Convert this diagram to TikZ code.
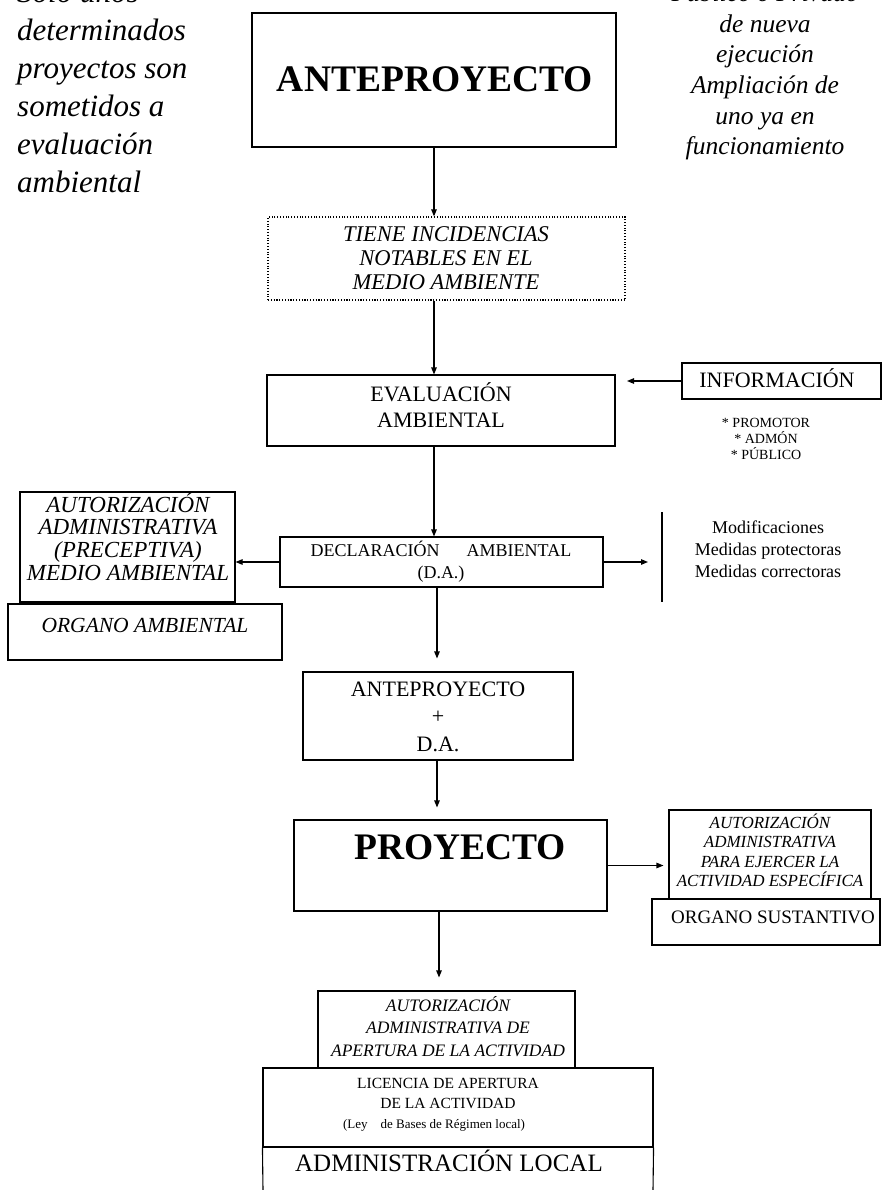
\documentclass[tikz,border=0pt]{standalone}
\usepackage{fontspec}
\setmainfont{Liberation Serif}
\usetikzlibrary{arrows.meta,fit}

% font size helper
\newcommand\fsz[1]{\fontsize{#1}{#1}\selectfont}
% a stack of centred text lines: name, x, first baseline, leading, node options, lines
\newcommand\txtlines[6]{%
  \foreach \l [count=\i from 0] in {#6}{%
    \node[anchor=base, inner sep=0pt, #5] (#1-\i) at (#2,#3+\i*#4) {\l};}}

\begin{document}
\begin{tikzpicture}[x=1pt,y=-1pt,
  box/.style={draw, line width=1.1pt, inner sep=0pt, fit={#1}},
  heavybox/.style={draw, line width=2.8pt, inner sep=0pt, fit={#1}},
  dotbox/.style={draw, line width=1.2pt, dash pattern=on 1.1pt off 1.7pt, inner sep=0pt, fit={#1}},
  arr/.style={-{Triangle[length=7pt,width=5.5pt]}, line width=1.1pt},
  ln/.style={line width=1.1pt},
  lbl/.style={inner sep=0pt}]

\useasboundingbox (0,0) rectangle (883,1190);

% side notes
\txtlines{tl}{17}{3}{38}{anchor=base west, font=\fsz{31}\itshape}{Sólo unos,determinados,proyectos son,sometidos a,evaluación,ambiental}
\txtlines{tr}{765}{1.5}{30.7}{font=\fsz{25.5}\itshape}{Público o Privado,de nueva,ejecución,Ampliación de,uno ya en,funcionamiento}

% boxes
\node[heavybox={(252,13) (616,147)}] (ante) {};
\node[dotbox={(268,217) (625,300)}] (tiene) {};
\node[box={(267,375) (615,446)}] (eval) {};
\node[box={(682,363) (881,399)}] (info) {};
\node[box={(280,537) (603,587)}] (decl) {};
\node[box={(20,492) (235,602)}] (aut1) {};
\node[box={(8,604) (282,660)}] (org1) {};
\node[box={(303,672) (573,760)}] (anda) {};
\node[box={(294,820) (607,911)}] (proy) {};
\node[box={(669,810) (871,899)}] (aut2) {};
\node[box={(652,899) (880,945)}] (org2) {};
\node[box={(318,991) (575,1068)}] (aut3) {};
\node[box={(263,1068) (653,1147)}] (lic) {};
\coordinate (admL) at (263,1190);
\coordinate (admR) at (653,1190);
\draw[ln] (lic.south west) -- (admL);
\draw[ln] (lic.south east) -- (admR);

% texts in boxes
\node[lbl, anchor=base, font=\fsz{37.5}\bfseries] (ante-t) at (435,92) {ANTEPROYECTO};
\txtlines{ti}{446}{242}{23.5}{font=\fsz{22.5}\itshape}{TIENE INCIDENCIAS,NOTABLES EN EL,MEDIO AMBIENTE}
\txtlines{ev}{441}{401}{26}{font=\fsz{22}}{EVALUACIÓN,AMBIENTAL}
\node[lbl, anchor=base, font=\fsz{22}] (info-t) at (777,387) {INFORMACIÓN};
\txtlines{pr}{766}{427}{16}{font=\fsz{14}}{* PROMOTOR,* ADMÓN,* PÚBLICO}
\txtlines{dl}{441}{556}{22}{font=\fsz{18}}{DECLARACIÓN\hspace{1.5em}AMBIENTAL,(D.A.)}
\txtlines{md}{768}{533}{22}{font=\fsz{18}}{Modificaciones,Medidas protectoras,Medidas correctoras}
\txtlines{a1}{128}{512}{22.7}{font=\fsz{23}\itshape}{AUTORIZACIÓN,ADMINISTRATIVA,(PRECEPTIVA),MEDIO AMBIENTAL}
\node[lbl, anchor=base, font=\fsz{21.5}\itshape] (org1-t) at (145,632) {ORGANO AMBIENTAL};
\txtlines{ad}{438}{696}{27.5}{font=\fsz{22}}{ANTEPROYECTO,+,D.A.}
\node[lbl, anchor=base, font=\fsz{37.5}\bfseries] (proy-t) at (460,859) {PROYECTO};
\txtlines{a2}{770}{828}{19.5}{font=\fsz{17}\itshape}{AUTORIZACIÓN,ADMINISTRATIVA,PARA EJERCER LA,ACTIVIDAD ESPECÍFICA}
\node[lbl, anchor=base, font=\fsz{19}] (org2-t) at (773,923) {ORGANO SUSTANTIVO};
\txtlines{a3}{448}{1011}{22.5}{font=\fsz{17.5}\itshape}{AUTORIZACIÓN,ADMINISTRATIVA DE,APERTURA DE LA ACTIVIDAD}
\txtlines{lc}{448}{1088}{20}{font=\fsz{15.5}}{LICENCIA DE APERTURA,DE LA ACTIVIDAD}
\node[lbl, anchor=base, font=\fsz{13}] (ley) at (434,1128) {(Ley\hspace{1em}de Bases de Régimen local)};
\node[lbl, anchor=base, font=\fsz{25}] (adm-t) at (449,1171) {ADMINISTRACIÓN LOCAL};

% connectors
\coordinate (col2) at (437,0);
\coordinate (col3) at (439,0);
\coordinate (infotip) at (627,381);
\coordinate (dtip) at (648,562);
\coordinate (barT) at (662,512);
\coordinate (barB) at (662,602);

\draw[arr] (ante.south) -- (ante.south |- tiene.north);
\draw[arr] (tiene.south -| ante.south) -- (eval.north -| ante.south);
\draw[arr] (info.west) -- (infotip);
\draw[arr] (eval.south -| ante.south) -- (decl.north -| ante.south);
\draw[arr] (decl.west) -- (decl.west -| aut1.east);
\draw[arr] (decl.east) -- (dtip);
\draw[ln] (barT) -- (barB);
\draw[arr, shorten >=13pt] (decl.south -| col2) -- (anda.north -| col2);
\draw[arr, shorten >=12pt] (anda.south -| col2) -- (proy.north -| col2);
\draw[arr, shorten >=5pt] (proy.east) -- (proy.east -| aut2.west);
\draw[arr, shorten >=13pt] (proy.south -| col3) -- (aut3.north -| col3);

\end{tikzpicture}
\end{document}
